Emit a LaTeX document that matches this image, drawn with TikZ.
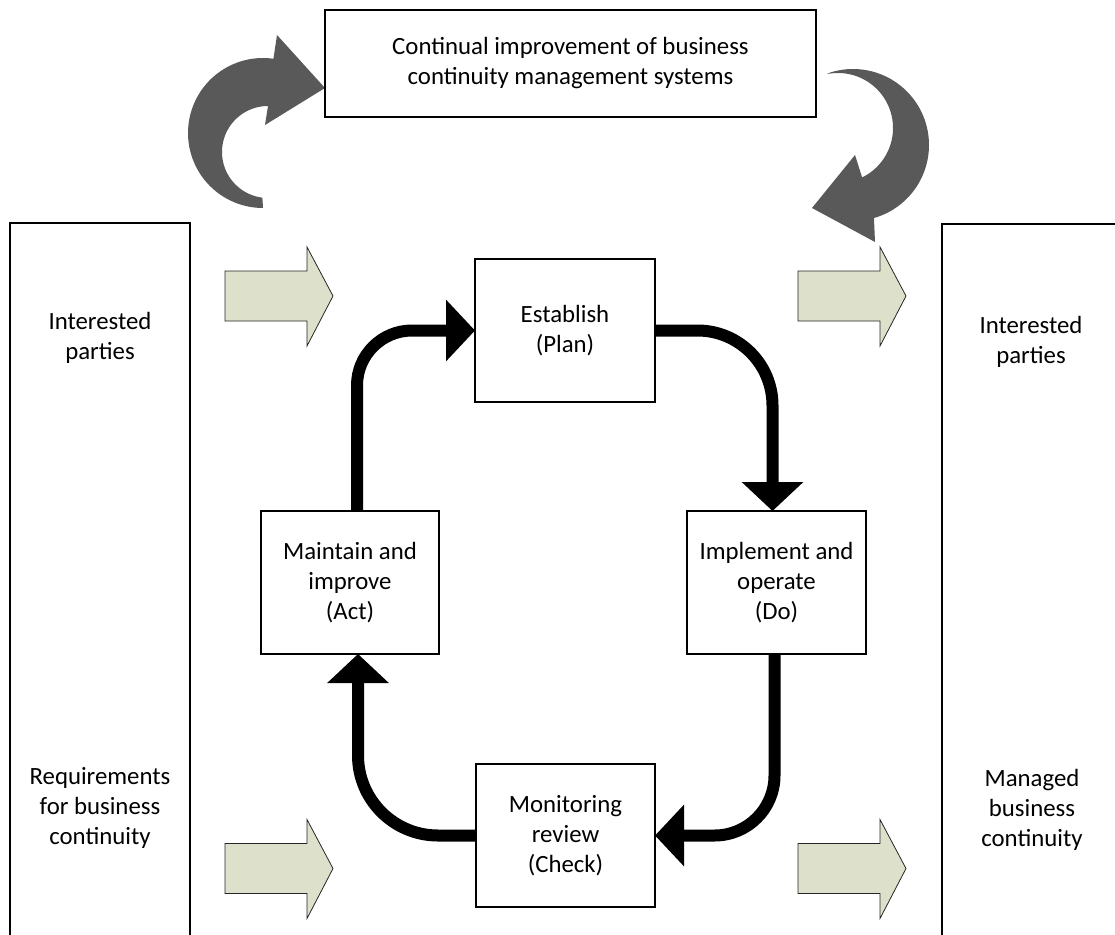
\documentclass[tikz,border=0pt]{standalone}
\usepackage{fontspec}
\setmainfont{Carlito}
\usetikzlibrary{arrows.meta}
\definecolor{arrowgray}{HTML}{595959}
\definecolor{blockfill}{HTML}{DDE0CB}
\begin{document}
\begin{tikzpicture}[x=1pt,y=-1pt,
  every node/.style={font=\fontsize{24.8}{30}\selectfont, align=center, inner sep=0pt, outer sep=0pt},
  box/.style={draw=black, line width=1.5pt, fill=white, minimum width=#1, minimum height=143pt},
  panel/.style={draw=black, line width=1.5pt, minimum width=180pt, minimum height=740pt, anchor=north west},
  flow/.style={line width=12pt, -{Triangle[length=29pt,width=60pt]}},
  pics/blockarrow/.style={code={
    \draw[fill=blockfill, draw=black!85, line width=0.8pt]
      (0,-25) -- (82,-25) -- (82,-49) -- (108,0) -- (82,50) -- (82,25) -- (0,25) -- cycle;}}
]
\useasboundingbox (0,0) rectangle (1115,934);
\clip (0,0) rectangle (1115,934);

% side panels (open towards the page edges)
\node[panel] (leftpanel) at (10,223) {};
\node[panel] (rightpanel) at (942,224) {};
\node (inleft) at (100,338) {Interested\\parties};
\node (reqleft) at (100,808) {Requirements\\for business\\continuity};
\node (inright) at (1031,342) {Interested\\parties};
\node (managed) at (1032,810) {Managed\\business\\continuity};

% input / output block arrows
\pic at (225,296) {blockarrow};
\pic at (798,296) {blockarrow};
\pic at (225,868.5) {blockarrow};
\pic at (798,868.5) {blockarrow};

% curved improvement arrows
\fill[arrowgray] plot[domain=90:278, samples=60] ({263+75*cos(\x)},{133+75*sin(\x)})
  -- (277,35) -- (325,88) -- (265,125)
  -- plot[domain=270:97, samples=60] ({268+46*cos(\x)},{152+46*sin(\x)}) -- cycle;
\fill[arrowgray] plot[domain=-110:74, samples=60] ({853+76*cos(\x)},{145+76*sin(\x)})
  -- (875,242) -- (812,208) -- (855,155)
  -- plot[domain=64:-99, samples=60] ({838+55*cos(\x)},{128+55*sin(\x)}) -- cycle;

% top box
\node[draw=black, line width=1.5pt, fill=white, minimum width=491pt, minimum height=107pt]
  (improve) at (570.5,63.5) {Continual improvement of business\\continuity management systems};

% PDCA boxes
\node[box=180pt] (plan) at (565,330.5) {Establish\\(Plan)};
\node[box=178pt] (act) at (350,582.5) {Maintain and\\improve\\(Act)};
\node[box=179pt] (do) at (776.5,582.5) {Implement and\\operate\\(Do)};
\node[box=179pt] (check) at (565.5,835.5) {Monitoring\\review\\(Check)};

% PDCA cycle
\draw[flow, rounded corners=55pt] ([xshift=7pt]act.north) |- (plan.west);
\draw[flow, rounded corners=75pt] (plan.east) -| ([xshift=-4pt]do.north);
\draw[flow, rounded corners=60pt] ([xshift=-2pt]do.south) |- (check.east);
\draw[flow, rounded corners=80pt] (check.west) -| ([xshift=8pt]act.south);
\end{tikzpicture}
\end{document}
